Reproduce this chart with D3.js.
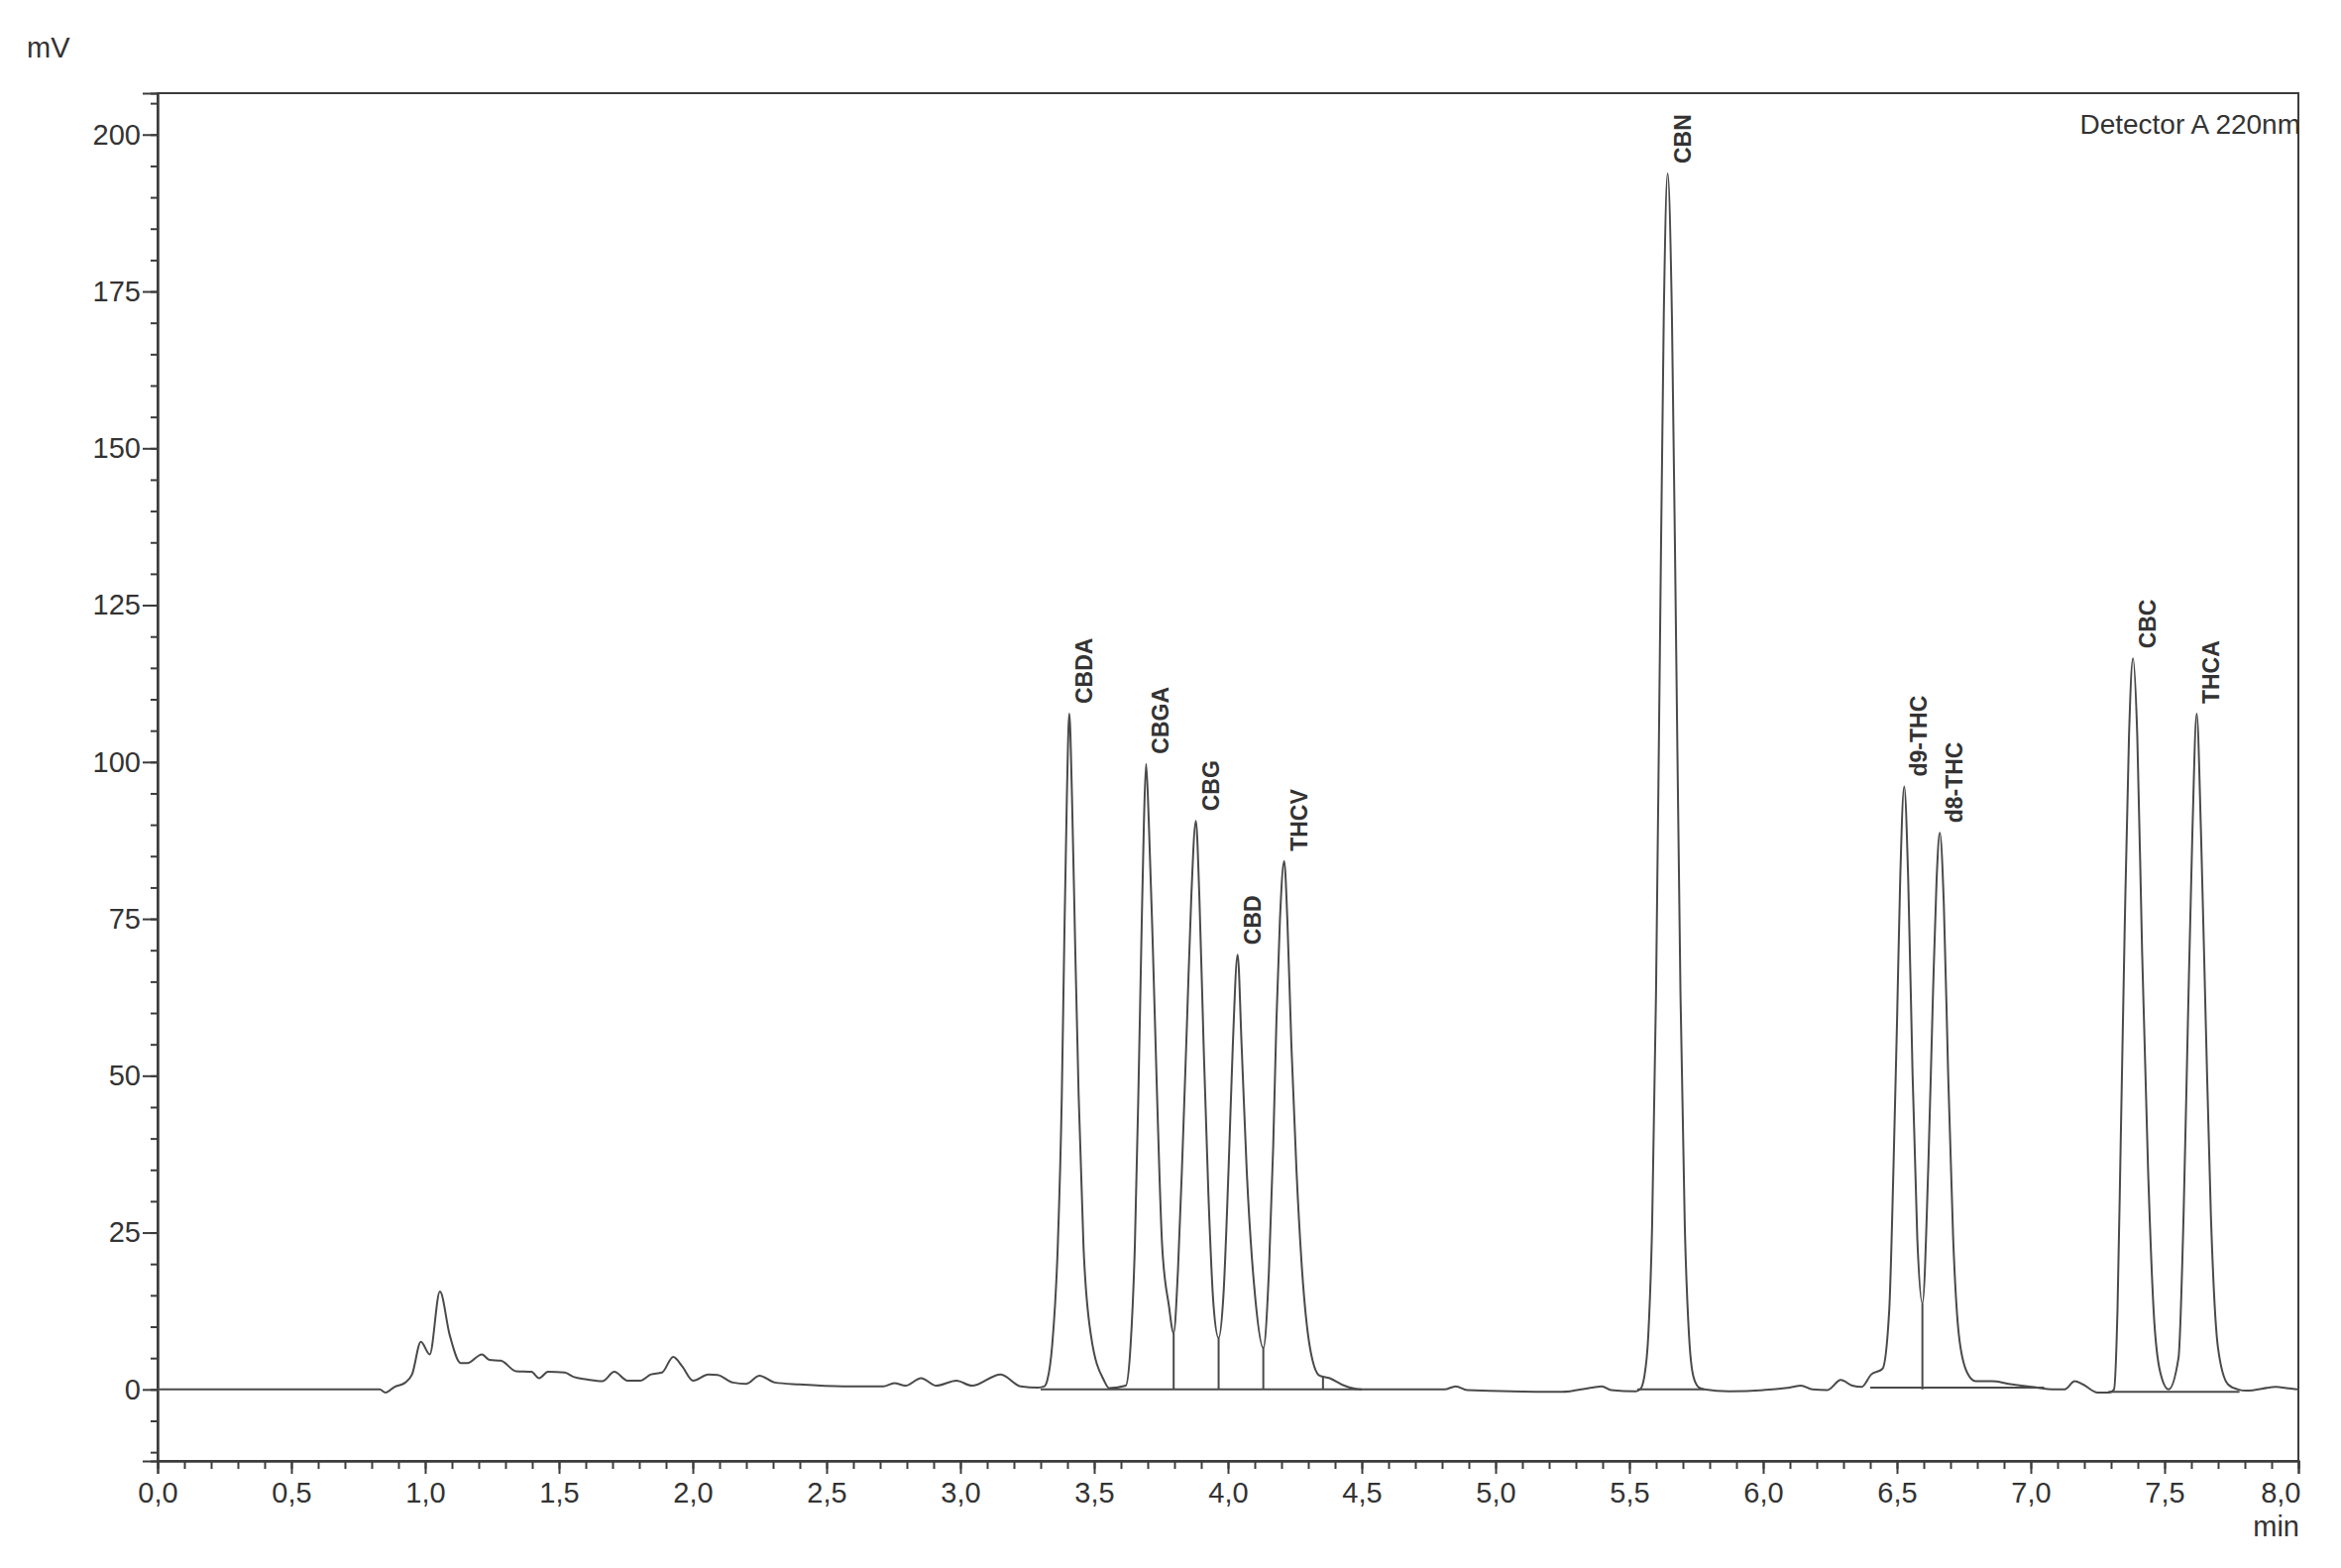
<!DOCTYPE html>
<html>
<head>
<meta charset="utf-8">
<script src="https://cdn.jsdelivr.net/npm/d3@7"></script>
<style>
  html, body { margin: 0; padding: 0; background: #fff; }
  svg { display: block; }
  text { font-family: "Liberation Sans", Arial, sans-serif; fill: #333; }
</style>
</head>
<body>
<svg id="chart" width="2362" height="1582"></svg>
<script>
// ---- data ----
const times = [
  0.00, 0.83, 0.852, 0.885, 0.926, 0.951, 0.984, 1.017, 1.055, 1.092, 1.133, 1.158, 1.212, 1.240, 1.282,
  1.340, 1.397, 1.426, 1.459, 1.521, 1.554, 1.604, 1.662, 1.707, 1.756, 1.803, 1.844, 1.885, 1.927, 1.960,
  2.001, 2.059, 2.093, 2.150, 2.200, 2.249, 2.307, 2.398, 2.563, 2.712, 2.753, 2.795, 2.853, 2.910, 2.985,
  3.043, 3.150, 3.225, 3.290, 3.314, 3.325, 3.343, 3.364, 3.379, 3.388, 3.398, 3.407, 3.417, 3.429, 3.442,
  3.460, 3.488, 3.537, 3.556, 3.618, 3.636, 3.652, 3.665, 3.676, 3.686, 3.694, 3.704, 3.719, 3.735, 3.754,
  3.779, 3.797, 3.813, 3.831, 3.847, 3.863, 3.880, 3.893, 3.909, 3.927, 3.946, 3.965, 3.983, 4.002, 4.018,
  4.036, 4.051, 4.070, 4.101, 4.132, 4.153, 4.169, 4.181, 4.194, 4.210, 4.222, 4.237, 4.256, 4.277, 4.305,
  4.342, 4.380, 4.435, 4.497, 4.809, 4.851, 4.894, 5.248, 5.361, 5.397, 5.432, 5.524, 5.540, 5.556, 5.5705,
  5.585, 5.5995, 5.614, 5.6285, 5.643, 5.659, 5.675, 5.691, 5.707, 5.723, 5.739, 5.760, 5.780, 5.872, 6.099,
  6.141, 6.184, 6.240, 6.290, 6.333, 6.368, 6.404, 6.446, 6.471, 6.487, 6.500, 6.512, 6.527, 6.542, 6.558,
  6.576, 6.595, 6.617, 6.634, 6.648, 6.660, 6.675, 6.691, 6.710, 6.731, 6.762, 6.794, 6.855, 6.917, 7.004,
  7.090, 7.127, 7.164, 7.195, 7.250, 7.294, 7.311, 7.324, 7.336, 7.351, 7.367, 7.382, 7.398, 7.416, 7.438,
  7.459, 7.484, 7.515, 7.552, 7.571, 7.587, 7.604, 7.620, 7.636, 7.654, 7.673, 7.700, 7.737, 7.774, 7.806,
  7.918, 7.955, 8.000
];
const signal = [
  0, 0, -0.5, 0.4, 1.1, 2.4, 7.6, 5.6, 15.6, 8.6, 4.2, 4.2, 5.6, 4.7, 4.6,
  2.9, 2.8, 1.8, 2.8, 2.7, 2.0, 1.6, 1.3, 2.8, 1.4, 1.4, 2.4, 2.7, 5.2, 3.7,
  1.4, 2.4, 2.3, 1.1, 0.9, 2.2, 1.1, 0.8, 0.5, 0.5, 1.0, 0.6, 1.8, 0.6, 1.4,
  0.6, 2.4, 0.5, 0.3, 0.5, 1.5, 7.0, 22.9, 46.8, 70.7, 94.6, 107.7, 94.6, 70.7, 46.8,
  22.9, 8.6, 1.4, 0.2, 0.6, 7.0, 22.9, 46.8, 70.7, 90.6, 99.7, 90.6, 70.7, 46.8, 22.9,
  13.4, 9.0, 18.9, 38.8, 58.7, 78.6, 90.6, 78.6, 54.8, 30.9, 13.4, 8.2, 15.0, 34.9, 54.8,
  69.3, 54.8, 34.9, 15.0, 6.6, 18.9, 38.8, 58.7, 74.7, 84.2, 74.7, 54.8, 34.9, 18.9, 7.0,
  2.2, 1.8, 0.6, 0, 0, 0.5, -0.1, -0.4, 0.3, 0.5, -0.1, -0.3, 0, 2.1, 8.5,
  26.2, 63, 117.6, 171, 193.8, 171, 117.6, 63, 26.2, 8.5, 2.1, 0.3, 0, -0.3, 0.3,
  0.6, 0, -0.1, 1.5, 0.6, 0.4, 2.4, 3.3, 12.6, 35.5, 58.3, 81.2, 96.1, 81.2, 50.7,
  24.0, 13.7, 35.5, 62.2, 81.2, 88.7, 77.4, 50.7, 24.0, 8.8, 2.7, 1.3, 1.3, 0.9, 0.4,
  0, 0, 1.3, 0.8, -0.5, -0.5, 0, 12.6, 39.3, 73.6, 104.1, 116.5, 104.1, 69.8, 35.5,
  12.6, 2.7, 0, 5.0, 27.8, 58.3, 88.9, 107.7, 88.9, 58.3, 27.8, 6.5, 0.8, 0, -0.2,
  0.4, 0.2, 0
];

const peakNames   = ["CBDA", "CBGA", "CBG", "CBD", "THCV", "CBN", "d9-THC", "d8-THC", "CBC", "THCA"];
const peakTimes   = [3.407, 3.694, 3.880, 4.036, 4.210, 5.643, 6.527, 6.660, 7.382, 7.620];
const peakHeights = [107.7, 99.7, 90.6, 69.3, 84.2, 193.8, 96.1, 88.7, 116.5, 107.7];

const dropTimes = [3.797, 3.965, 4.132, 4.355, 6.595];
const dropTops  = [9.0, 8.2, 6.6, 2.1, 13.7];

const baseStart = [3.30, 5.53, 6.40, 7.29];
const baseEnd   = [4.50, 5.78, 7.05, 7.78];
const baseLevel = [0, 0, 0.3, -0.4];

const xTickValues = [0, 0.5, 1, 1.5, 2, 2.5, 3, 3.5, 4, 4.5, 5, 5.5, 6, 6.5, 7, 7.5, 8];
const xTickLabels = ["0,0","0,5","1,0","1,5","2,0","2,5","3,0","3,5","4,0","4,5","5,0","5,5","6,0","6,5","7,0","7,5","8,0"];
const yTickValues = [0, 25, 50, 75, 100, 125, 150, 175, 200];
const yTickLabels = ["0", "25", "50", "75", "100", "125", "150", "175", "200"];

const yUnit = "mV";
const xUnit = "min";
const detectorLabel = "Detector A 220nm";

// ---- layout ----
const PL = 159, PR = 2319, PT = 94, PB = 1474;
const x = d3.scaleLinear().domain([0, 8]).range([PL, PR]);
const y = d3.scaleLinear().domain([-11.4, 206.6]).range([PB, PT]);

const svg = d3.select("#chart");
const axisColor = "#3c3c3c";
const traceColor = "#4a4a4a";

// frame
svg.append("rect")
  .attr("x", PL).attr("y", PT)
  .attr("width", PR - PL).attr("height", PB - PT)
  .attr("fill", "none").attr("stroke", axisColor).attr("stroke-width", 2);

// y axis (ticks outward to the left)
const yMinor = d3.range(-10, 206, 5);
const yAxisMinor = d3.axisLeft(y).tickValues(yMinor).tickSize(7).tickFormat("");
const yAxisMajor = d3.axisLeft(y).tickValues(yTickValues).tickSize(15).tickPadding(2)
  .tickFormat((d, i) => yTickLabels[i]);
const gyMin = svg.append("g").attr("transform", `translate(${PL},0)`).call(yAxisMinor);
const gy = svg.append("g").attr("transform", `translate(${PL},0)`).call(yAxisMajor);
[gyMin, gy].forEach(g => {
  g.select(".domain").attr("stroke", axisColor).attr("stroke-width", 2);
  g.selectAll(".tick line").attr("stroke", axisColor).attr("stroke-width", 2);
});
gy.selectAll(".tick text")
  .attr("font-size", 29).attr("fill", "#333")
  .style("font-family", '"Liberation Sans", Arial, sans-serif');

// x axis (ticks downward)
const xMinor = d3.range(0, 81).map(d => d / 10);
const xAxisMinor = d3.axisBottom(x).tickValues(xMinor).tickSize(8).tickFormat("");
const xAxisMajor = d3.axisBottom(x).tickValues(xTickValues).tickSize(13).tickPadding(8)
  .tickFormat((d, i) => xTickLabels[i]);
const gxMin = svg.append("g").attr("transform", `translate(0,${PB})`).call(xAxisMinor);
const gx = svg.append("g").attr("transform", `translate(0,${PB})`).call(xAxisMajor);
[gxMin, gx].forEach(g => {
  g.select(".domain").attr("stroke", axisColor).attr("stroke-width", 2);
  g.selectAll(".tick line").attr("stroke", axisColor).attr("stroke-width", 2);
});
gx.selectAll(".tick text")
  .attr("font-size", 29).attr("fill", "#333")
  .style("font-family", '"Liberation Sans", Arial, sans-serif');
gx.selectAll(".tick text").filter((d, i) => i === xTickValues.length - 1)
  .attr("text-anchor", "end").attr("x", 2);

// unit labels
svg.append("text").attr("x", 27).attr("y", 58).attr("font-size", 29).text(yUnit);
svg.append("text").attr("x", PR + 1).attr("y", 1550).attr("text-anchor", "end")
  .attr("font-size", 29).text(xUnit);
svg.append("text").attr("x", PR + 2).attr("y", 135).attr("text-anchor", "end")
  .attr("font-size", 28).text(detectorLabel);

// integration baselines
const baseG = svg.append("g");
baseStart.forEach((s, i) => {
  baseG.append("line")
    .attr("x1", x(s)).attr("x2", x(baseEnd[i]))
    .attr("y1", y(baseLevel[i])).attr("y2", y(baseLevel[i]))
    .attr("stroke", traceColor).attr("stroke-width", 2);
});
// drop lines
dropTimes.forEach((t, i) => {
  baseG.append("line")
    .attr("x1", x(t)).attr("x2", x(t))
    .attr("y1", y(dropTops[i])).attr("y2", y(0))
    .attr("stroke", traceColor).attr("stroke-width", 2);
});

// chromatogram trace
const pts = times.map((t, i) => [t, signal[i]]);
const line = d3.line().x(d => x(d[0])).y(d => y(d[1])).curve(d3.curveMonotoneX);
svg.append("path").datum(pts)
  .attr("d", line)
  .attr("fill", "none").attr("stroke", traceColor).attr("stroke-width", 2)
  .attr("stroke-linejoin", "round");

// peak labels
const lbl = svg.append("g");
peakNames.forEach((n, i) => {
  lbl.append("text")
    .attr("transform", `translate(${x(peakTimes[i]) + 23},${y(peakHeights[i]) - 10}) rotate(-90)`)
    .attr("text-anchor", "start")
    .attr("font-size", 23).attr("font-weight", "bold")
    .text(n);
});
</script>
</body>
</html>
